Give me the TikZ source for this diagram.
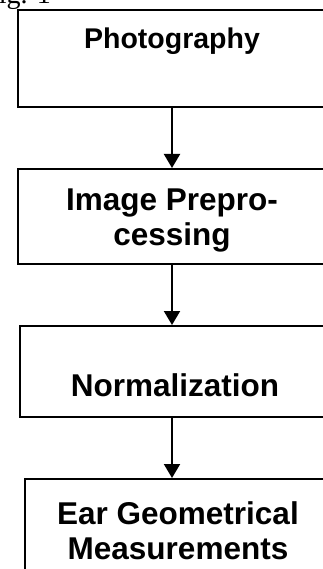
\documentclass[tikz,border=0pt]{standalone}
\usepackage{fontspec}
\usetikzlibrary{arrows.meta}
\setmainfont{Liberation Serif}
\newfontfamily\flowsans{Liberation Sans}
\newcommand{\flowlab}{\flowsans\bfseries\fontsize{31.5}{35}\selectfont}
\newcommand{\flowtop}{\flowsans\bfseries\fontsize{28.5}{35}\selectfont}

\begin{document}
\begin{tikzpicture}[x=1pt,y=-1pt,
  stepbox/.style={draw,line width=2,align=center,inner sep=0,font=\flowlab},
  flowarrow/.style={line width=2,-{Triangle[width=16,length=14]}}]
\useasboundingbox (0,0) rectangle (323,569);
\clip (0,0) rectangle (323,569);
\node[anchor=base west,inner sep=0,font=\fontsize{28}{32}\selectfont] (figlab) at (-17,4) {Fig. 1};
\node[stepbox,font=\flowtop,minimum width=308,minimum height=97,text height=20,text depth=40.4] (photo) at (172,58.5) {Photography};
\node[stepbox,minimum width=308,minimum height=95,text height=60,text depth=3] (prep) at (172,216.5) {Image Prepro-\\cessing};
\node[stepbox,minimum width=310,minimum height=91,text height=60.4,text depth=10] (norm) at (175,371.5) {Normalization};
\node[stepbox,minimum width=306,minimum height=97,text height=66,text depth=2.4] (ear) at (178,527.5) {Ear Geometrical\\Measurements};
\draw[flowarrow] (photo.south) -- (prep.north);
\draw[flowarrow] (prep.south) -- (prep.south |- norm.north);
\draw[flowarrow] (prep.south |- norm.south) -- (prep.south |- ear.north);
\end{tikzpicture}
\end{document}
